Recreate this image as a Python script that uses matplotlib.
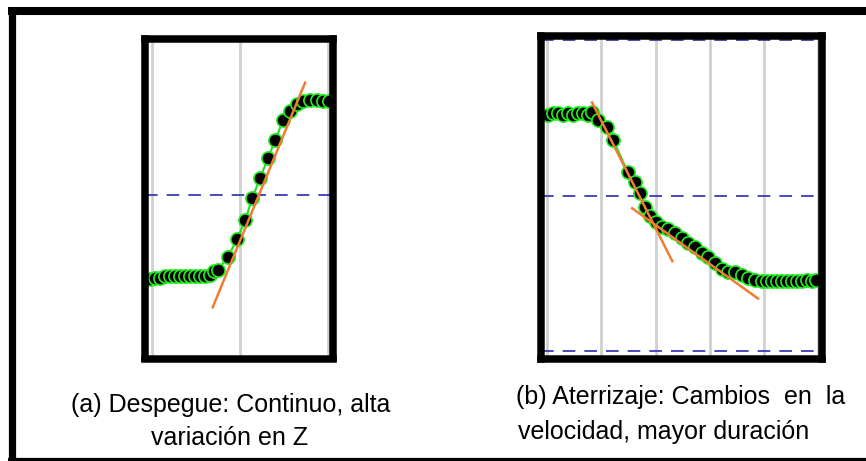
import matplotlib
matplotlib.use("Agg")
import matplotlib.pyplot as plt
from matplotlib.lines import Line2D

W, H = 866, 461

# panel (a) despegue
a_x = [-0.02, 0.03, 0.09, 0.15, 0.20, 0.26, 0.32, 0.38, 0.43, 0.49, 0.55, 0.60, 0.66, 0.70,
       0.75, 0.86, 0.97, 1.06, 1.14, 1.23, 1.32, 1.40, 1.49, 1.57, 1.65, 1.72, 1.80, 1.88, 1.94, 2.01]
a_y = [-0.54, -0.53, -0.53, -0.52, -0.52, -0.52, -0.52, -0.52, -0.52, -0.52, -0.52, -0.52, -0.51, -0.49,
       -0.48, -0.40, -0.28, -0.16, -0.02, 0.11, 0.24, 0.35, 0.48, 0.54, 0.58, 0.60, 0.61, 0.61, 0.60, 0.60]
a_fit_x = [0.69, 1.74]
a_fit_y = [-0.72, 0.72]

# panel (b) aterrizaje
b_x = [0.02, 0.11, 0.20, 0.30, 0.39, 0.48, 0.57, 0.66, 0.76, 0.83,
       0.94, 1.11, 1.22, 1.49, 1.62, 1.72, 1.81, 1.90, 2.00, 2.12, 2.23, 2.36, 2.49, 2.60,
       2.73, 2.86, 2.97, 3.10, 3.23, 3.34, 3.47, 3.60, 3.71, 3.84,
       3.97, 4.06, 4.15, 4.24, 4.34, 4.43, 4.52, 4.61, 4.70, 4.80, 4.89, 4.96]
b_y = [0.52, 0.53, 0.53, 0.52, 0.53, 0.52, 0.53, 0.53, 0.52, 0.54,
       0.49, 0.44, 0.36, 0.15, 0.09, 0.02, -0.07, -0.13, -0.17, -0.20, -0.21, -0.24, -0.27, -0.30,
       -0.33, -0.37, -0.39, -0.43, -0.47, -0.49, -0.49, -0.51, -0.53, -0.54,
       -0.55, -0.55, -0.55, -0.55, -0.55, -0.55, -0.55, -0.55, -0.55, -0.54, -0.55, -0.54]
b_fit1_x = [0.83, 2.31]
b_fit1_y = [0.60, -0.42]
b_fit2_x = [1.57, 3.89]
b_fit2_y = [-0.08, -0.66]

cap_a = ["(a) Despegue: Continuo, alta", "variación en Z"]
cap_b = ["(b) Aterrizaje: Cambios  en  la", "velocidad, mayor duración"]

fig = plt.figure(figsize=(W / 100, H / 100), dpi=100)


def px_axes(l, r, t, b):
    return fig.add_axes([l / W, 1 - b / H, (r - l) / W, (b - t) / H])


def panel(ax, xs, ys, fits, xlim, ylim, xt, yt):
    ax.set_xlim(*xlim)
    ax.set_ylim(*ylim)
    for v in xt:
        ax.axvline(v, color="#d0d0d0", lw=2.0, zorder=0)
    for v in yt:
        ax.axhline(v, color="#3a3ab4", lw=1.3, ls=(0, (7, 5)), zorder=0.5)
    ax.plot(xs, ys, color="#22dd22", lw=1.5, zorder=1)
    ax.plot(xs, ys, "o", ms=9.5, mfc="black", mec="#22ee22", mew=1.2, zorder=1.2)
    for fx, fy in fits:
        ax.plot(fx, fy, color="#f07d32", lw=1.8, zorder=1.5)
    ax.set_xticks([])
    ax.set_yticks([])
    for s in ax.spines.values():
        s.set_linewidth(5.4)
        s.set_color("black")


ax1 = px_axes(144.5, 333, 38.5, 358.5)
panel(ax1, a_x, a_y, [(a_fit_x, a_fit_y)], (-0.085, 2.057), (-1.048, 1.003), [0, 1, 2], [0])

ax2 = px_axes(540.5, 821.5, 35.5, 358.5)
panel(ax2, b_x, b_y, [(b_fit1_x, b_fit1_y), (b_fit2_x, b_fit2_y)],
      (-0.12, 5.06), (-1.045, 1.03), [0, 1, 2, 3, 4, 5], [-1, 0, 1])

# marco exterior
fig.add_artist(Line2D([11.5 / W, 11.5 / W], [1 - 7 / H, 0], color="black", lw=5.2,
                      transform=fig.transFigure, solid_capstyle="butt"))
fig.add_artist(Line2D([8 / W, 1], [1 - 11 / H, 1 - 11 / H], color="black", lw=5.8,
                      transform=fig.transFigure, solid_capstyle="butt"))
fig.add_artist(Line2D([8 / W, 1], [1 - 461 / H, 1 - 461 / H], color="black", lw=4.5,
                      transform=fig.transFigure, solid_capstyle="butt"))

fam = ["Liberation Sans", "DejaVu Sans"]
fig.text(231 / W, 1 - 405 / H, cap_a[0], ha="center", va="center", fontsize=18, family=fam)
fig.text(230 / W, 1 - 438 / H, cap_a[1], ha="center", va="center", fontsize=18, family=fam)
fig.text(681 / W, 1 - 397 / H, cap_b[0], ha="center", va="center", fontsize=18, family=fam)
fig.text(664 / W, 1 - 432 / H, cap_b[1], ha="center", va="center", fontsize=18, family=fam)

fig.savefig("out.png", dpi=100)
